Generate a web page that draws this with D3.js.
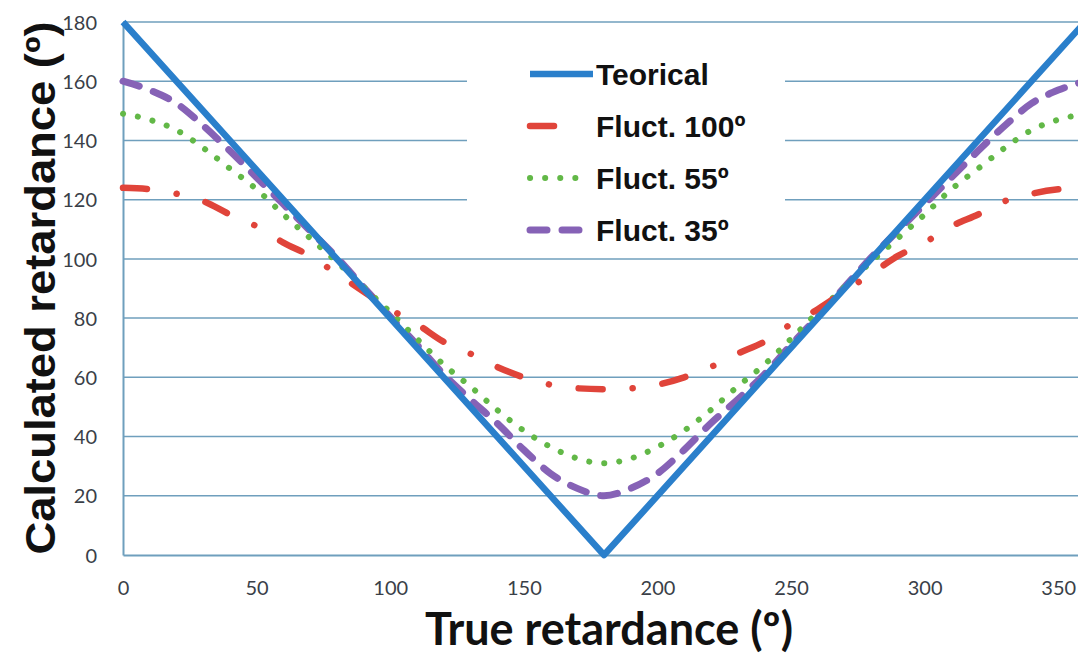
<!DOCTYPE html>
<html>
<head>
	<script src="https://d3js.org/d3.v7.min.js"></script>
	<meta charset="UTF-8">
	<style>
		body{ margin:0; background-color:#ffffff; }
		svg{ display:block; }
	</style>
</head>
<body>
	<script type="text/javascript">
		// true retardance (deg), every 10 deg
		var angles = [0,10,20,30,40,50,60,70,80,90,100,110,120,130,140,150,160,170,180,
			190,200,210,220,230,240,250,260,270,280,290,300,310,320,330,340,350,360];
		var teoricalX = [0, 180, 360];
		var teorical = [180, 0, 180];
		var fluct100 = [124,123.5,122,119.5,115,111,105.5,101,95,89,83,78,72,68,63.5,60,57.5,56.3,56,
			56.3,57.5,60,63.5,68,72,78,83,89,95,101,105.5,111,115,119.5,122,123.5,124];
		var fluct55 = [149,147,143.5,137.5,130.5,123.5,115,107,99,90.5,82,73,64.3,56.9,49,42,36.5,32.6,31,
			32.6,36.5,42,49,56.9,64.3,73,82,90.5,99,107,115,123.5,130.5,137.5,143.5,147,149];
		var fluct35 = [160,157,152.5,145,136.5,127.5,118.5,109.5,100.5,90.5,80.5,71,61,52.5,44.5,35.5,27.5,22.5,20,
			22.5,27.5,35.5,44.5,52.5,61,71,80.5,90.5,100.5,109.5,118.5,127.5,136.5,145,152.5,157,160];
		var xTicks = [0,50,100,150,200,250,300,350];
		var yTicks = [0,20,40,60,80,100,120,140,160,180];
		var legendNames = ["Teorical", "Fluct. 100º", "Fluct. 55º", "Fluct. 35º"];

		var w = 1078;
		var h = 659;
		var xScale = d3.scaleLinear().domain([0, 360]).range([123, 1085]);
		var yScale = d3.scaleLinear().domain([0, 180]).range([555, 22]);

		var svg = d3.select('body').append('svg').attr('width', w).attr('height', h);
		var gridColor = "#6f9fbd";

		//grid
		svg.append("g").selectAll("line").data(yTicks.slice(1)).enter().append("line")
			.attr("x1", xScale(0)).attr("x2", w).attr("y1", function(d){return yScale(d);}).attr("y2", function(d){return yScale(d);})
			.attr("stroke", gridColor).attr("stroke-width", 1.5);

		//Axis
		var xAxis = d3.axisBottom(xScale).tickValues(xTicks).tickSize(0).tickPadding(26);
		var yAxis = d3.axisLeft(yScale).tickValues(yTicks).tickSize(0).tickPadding(26);
		var gx = svg.append("g").attr("transform", "translate(0, " + yScale(0) + ")").call(xAxis);
		var gy = svg.append("g").attr("transform", "translate(" + xScale(0) + ", 0)").call(yAxis);
		gx.select(".domain").attr("stroke", gridColor).attr("stroke-width", 2);
		gy.select(".domain").attr("stroke", gridColor).attr("stroke-width", 2);
		svg.selectAll(".tick text").style("font-family", "Lato, 'Open Sans', sans-serif").style("font-size", "20px").attr("fill", "#3a3f48");
		gy.selectAll(".tick text").attr("dy", "0.36em");

		//legend box (covers the grid)
		svg.append("rect").attr("x", 467).attr("y", 40).attr("width", 318).attr("height", 210).attr("fill", "#ffffff");

		//lines
		var line = d3.line().curve(d3.curveMonotoneX)
			.x(function(d){return xScale(d[0]);}).y(function(d){return yScale(d[1]);});
		var straight = d3.line().x(function(d){return xScale(d[0]);}).y(function(d){return yScale(d[1]);});
		var series = [
			{name: legendNames[0], x: teoricalX, y: teorical, color: "#2a7fcb", width: 6.5, dash: null},
			{name: legendNames[1], x: angles, y: fluct100, color: "#e0443a", width: 6.5, dash: "24,30,0.1,30"},
			{name: legendNames[2], x: angles, y: fluct55, color: "#62b847", width: 6, dash: "0.1,15"},
			{name: legendNames[3], x: angles, y: fluct35, color: "#8662b6", width: 7, dash: "17,15"}
		];
		var plot = svg.append("g");
		series.slice().reverse().forEach(function(s){
			var pts = s.x.map(function(v, i){return [v, s.y[i]];});
			plot.append("path").attr("d", s.dash ? line(pts) : straight(pts))
				.attr("fill", "none").attr("stroke", s.color).attr("stroke-width", s.width)
				.attr("stroke-linecap", s.dash ? "round" : "butt").attr("stroke-linejoin", "round")
				.attr("stroke-dasharray", s.dash);
		});

		//legend
		var lg = svg.append("g");
		series.forEach(function(s, i){
			var yy = 74 + i * 52;
			lg.append("line").attr("x1", 530).attr("x2", s.dash ? 582 : 593).attr("y1", yy).attr("y2", yy)
				.attr("stroke", s.color).attr("stroke-width", s.width)
				.attr("stroke-linecap", s.dash ? "round" : "butt").attr("stroke-dasharray", s.dash);
			lg.append("text").attr("x", 596).attr("y", yy).attr("dy", "0.36em")
				.style("font-family", "'Liberation Sans', Arial, sans-serif").style("font-weight", "bold").style("font-size", "30px")
				.attr("fill", "#111").text(s.name);
		});

		//titles
		svg.append("text").attr("x", 609).attr("y", 645).attr("text-anchor", "middle")
			.style("font-family", "Lato, sans-serif").style("font-weight", "bold").style("font-size", "45px")
			.attr("fill", "#111").text("True retardance (º)");
		svg.append("text").attr("transform", "translate(55, 288) rotate(-90) scale(1.08, 1)").attr("text-anchor", "middle")
			.style("font-family", "'Liberation Sans', Arial, sans-serif").style("font-weight", "bold").style("font-size", "42px")
			.attr("fill", "#111").text("Calculated retardance (º)");
	</script>
</body>
</html>
